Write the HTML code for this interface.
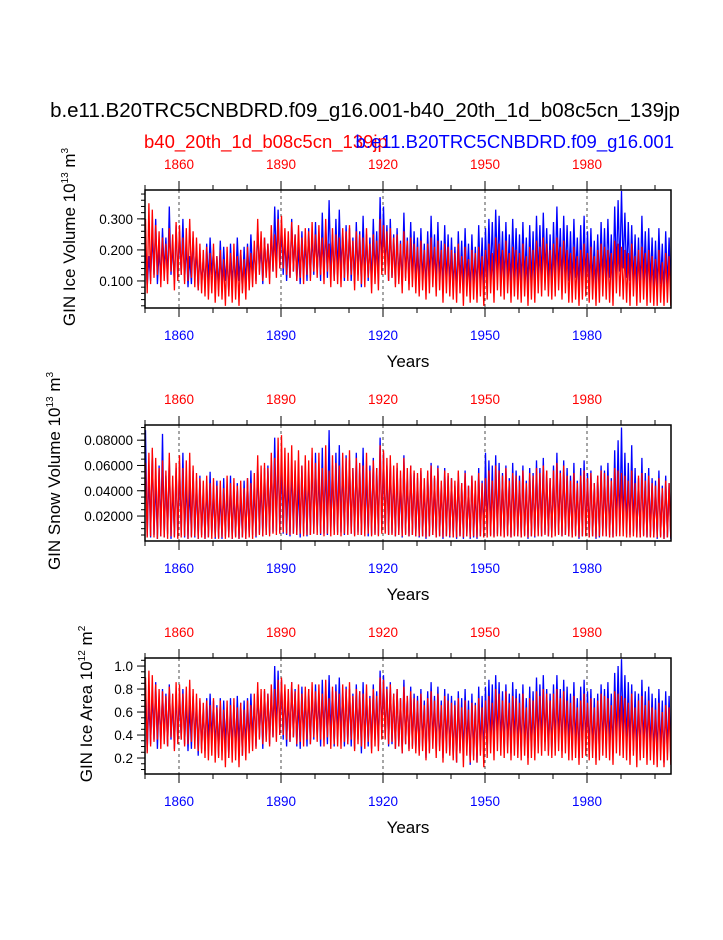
<!DOCTYPE html>
<html><head><meta charset="utf-8"><style>
body{margin:0;background:#fff}
svg text{font-family:"Liberation Sans",sans-serif}
</style></head><body>
<svg id="c" width="723" height="935" xmlns="http://www.w3.org/2000/svg">
<text x="365" y="117" font-size="20.5" text-anchor="middle">b.e11.B20TRC5CNBDRD.f09_g16.001-b40_20th_1d_b08c5cn_139jp</text>
<text x="144" y="148" font-size="18.5" fill="#f00">b40_20th_1d_b08c5cn_139jp</text>
<text x="674" y="148" font-size="18.5" fill="#00f" text-anchor="end">b.e11.B20TRC5CNBDRD.f09_g16.001</text>
</svg>
<script>
const years0 = 1850, nYears = 155;
const majorYears = [1860,1890,1920,1950,1980];
function P(s){return s.trim().split(/\s+/).map(Number);}
// ice volume (x0.01 of 10^13 m^3)
const iceBlueMax = P(`22 18 25 30 20 27 24 34 22 28 26 30 22 18 24 20 19 17 22 24 20 18 23 21 17 22 18 24 20 21 22 25 20 27 21 24 22 26 34 33 28 24 22 30 25 21 26 23 27 25 29 24 32 27 36 25 30 33 26 28 27 24 29 26 31 25 24 30 26 37 34 28 30 25 27 23 32 24 29 26 24 27 22 26 31 25 29 23 28 25 24 21 26 23 27 22 25 21 28 24 27 30 29 33 31 26 29 25 30 27 25 29 24 28 26 31 28 32 27 25 29 34 27 31 28 26 30 24 28 31 26 27 23 25 29 27 30 25 34 36 39 32 29 28 25 24 31 26 27 24 23 27 22 26 24`);
const iceBlueMin = P(`8 10 12 9 11 13 10 12 9 11 12 10 8 9 11 7 9 8 10 12 9 7 8 10 6 9 8 10 7 9 11 12 10 13 9 12 11 13 15 14 12 10 11 13 10 9 12 10 11 12 13 10 12 11 14 10 12 13 10 11 10 9 12 8 11 10 9 12 10 14 13 10 11 9 10 8 11 9 10 9 8 10 7 9 11 8 10 7 9 8 7 6 9 7 10 6 8 6 9 7 9 11 10 12 11 9 10 8 11 9 8 10 7 9 8 11 10 12 9 8 10 12 9 11 10 8 11 7 9 10 8 9 7 8 10 9 11 8 12 13 14 11 10 9 8 7 10 8 9 7 7 9 6 8 7`);
const iceRedMax = P(`30 35 33 28 26 24 22 27 25 29 28 24 27 30 26 24 22 20 21 19 22 18 20 17 21 19 22 18 20 17 21 19 23 30 26 24 22 28 25 30 31 27 26 29 25 28 24 27 26 29 25 28 24 30 22 27 25 24 27 26 28 23 26 25 24 27 22 25 23 30 28 26 27 24 25 22 26 23 24 22 21 23 20 22 24 21 23 20 22 21 20 19 22 18 21 17 20 19 21 18 20 22 19 24 22 20 23 19 21 20 19 22 18 21 20 23 21 24 22 20 22 24 21 23 20 19 21 18 20 22 19 21 18 20 22 21 20 19 23 22 21 20 19 22 18 20 21 19 20 18 17 20 16 19 18`);
const iceRedMin = P(`6 9 11 12 8 10 9 13 7 10 12 9 10 11 8 7 6 5 4 6 3 5 4 2 5 3 4 2 6 4 7 8 9 12 10 11 9 13 11 14 14 12 11 13 10 11 9 12 10 13 11 12 9 13 8 10 9 8 11 10 12 7 10 9 8 11 6 9 7 12 12 10 11 8 9 6 10 7 8 6 5 7 4 6 8 5 7 3 6 5 4 3 6 2 5 3 4 3 5 2 4 6 3 7 5 4 6 3 5 4 3 5 2 4 3 6 5 7 5 4 5 7 4 6 3 3 4 2 4 5 3 4 2 3 5 4 3 2 6 5 4 3 2 5 2 3 4 2 3 2 2 3 2 3 2`);
// snow volume (x0.001 of 10^13 m^3)
const snowBlueMax = P(`88 55 72 48 60 85 52 66 45 58 62 70 50 44 56 48 52 40 46 55 42 48 38 50 44 52 40 46 38 48 50 56 44 62 48 58 60 66 82 72 64 55 50 62 56 46 60 52 58 66 70 58 74 62 88 60 70 76 62 68 64 58 70 60 74 56 60 66 58 82 70 60 64 54 58 50 68 52 60 54 50 56 46 54 62 50 60 46 58 52 50 44 54 46 56 44 52 42 58 48 70 64 60 68 62 54 60 50 62 56 52 60 48 58 54 64 58 66 56 50 60 70 56 64 58 52 62 48 58 64 54 56 46 52 60 56 62 50 72 80 90 70 62 76 58 50 66 54 58 50 48 56 44 52 46`);
const snowBlueMin = P(`4 3 5 2 4 3 6 2 4 3 5 3 2 4 3 2 5 2 3 4 2 3 2 4 3 2 4 2 3 2 4 5 3 6 4 5 6 7 8 7 6 5 4 6 5 3 6 4 5 6 7 5 6 5 8 6 7 7 5 6 6 5 7 5 6 4 5 6 5 8 7 5 6 4 5 3 6 4 5 4 3 4 2 4 5 3 4 2 4 3 3 2 4 2 4 2 3 2 4 3 6 5 4 6 5 4 5 3 5 4 3 5 2 4 3 5 4 6 4 3 5 6 4 5 4 3 5 2 4 5 3 4 2 3 5 4 5 3 6 7 8 6 5 7 4 3 5 3 4 3 2 4 2 3 2`);
const snowRedMax = P(`62 70 74 66 58 64 56 70 52 62 68 58 64 70 60 54 50 48 52 46 50 44 48 42 52 46 50 44 48 42 50 46 54 68 60 62 58 70 66 82 84 74 70 76 64 72 60 68 64 74 62 70 58 76 56 68 62 60 70 66 72 58 66 62 60 70 56 64 58 76 72 66 68 60 62 56 66 58 60 56 54 58 50 56 60 52 58 48 56 54 50 48 56 46 54 44 52 48 54 46 50 56 48 60 56 52 58 48 54 52 48 56 46 54 52 58 54 60 56 50 56 62 54 60 52 48 54 46 52 56 50 54 46 52 56 54 52 48 58 56 54 52 48 56 46 52 54 48 52 46 44 50 42 48 46`);
const snowRedMin = P(`3 4 3 2 4 3 2 4 3 2 3 4 2 3 4 2 3 2 3 2 3 2 3 2 3 2 3 2 3 2 3 2 4 5 4 5 4 6 5 6 7 6 5 6 5 6 4 5 5 6 5 6 4 6 4 5 5 4 6 5 6 4 5 5 4 6 4 5 4 6 6 5 5 4 5 4 5 4 5 4 4 4 3 4 5 3 4 3 4 4 3 3 4 3 4 3 4 3 4 3 3 4 3 4 4 3 4 3 4 4 3 4 3 4 4 4 4 5 4 3 4 5 4 5 4 3 4 3 4 4 3 4 3 4 4 4 3 3 4 4 4 3 3 4 3 3 4 3 3 3 3 3 2 3 3`);
// ice area (x0.01 of 10^12 m^2)
const areaBlueMax = P(`84 70 78 86 72 80 76 84 70 78 76 80 72 66 74 68 70 64 72 76 70 66 72 70 64 72 66 74 68 70 72 76 70 80 72 78 76 80 100 96 88 78 74 86 80 72 82 76 80 78 84 76 88 80 92 78 84 90 78 82 80 76 84 78 86 76 74 84 78 96 92 82 86 76 80 72 88 74 82 76 74 80 70 78 86 74 82 70 80 76 74 70 78 72 80 70 76 68 82 74 82 88 84 92 86 78 84 76 86 80 76 84 72 82 78 90 84 92 80 76 84 92 80 88 82 76 86 72 82 88 78 80 72 76 84 80 86 76 94 100 106 92 86 84 78 76 88 78 82 76 72 80 70 78 74`);
const areaBlueMin = P(`26 32 36 28 34 38 30 36 28 34 36 32 26 28 34 22 28 26 32 36 28 22 26 32 20 28 26 30 22 28 32 36 30 38 28 36 32 38 42 40 36 30 34 38 30 28 36 30 32 36 38 30 36 32 40 30 36 38 30 32 30 28 36 24 32 30 28 36 30 40 38 30 32 28 30 24 32 28 30 26 24 30 20 26 32 24 30 20 26 24 20 16 26 20 28 14 22 16 26 20 26 32 30 34 32 26 30 24 32 26 24 30 20 26 24 32 30 34 26 24 30 34 26 32 30 24 32 20 26 30 24 26 20 24 30 26 32 24 34 36 40 32 30 26 24 20 30 24 26 20 20 26 16 24 20`);
const areaRedMax = P(`90 96 92 84 80 78 74 82 76 86 84 76 82 88 80 76 72 68 70 66 72 64 70 62 70 66 72 64 68 62 70 66 76 86 80 80 76 84 80 88 90 84 80 86 78 84 76 82 80 86 78 84 76 88 72 82 78 76 84 80 86 74 80 78 76 84 72 80 74 90 88 80 84 76 80 72 82 74 78 72 70 76 66 72 78 70 76 66 74 70 68 66 72 64 70 62 68 66 72 64 70 74 68 80 76 70 78 68 74 72 68 76 64 72 70 78 74 80 76 70 76 80 72 78 70 68 74 64 70 76 68 72 64 70 76 74 72 66 78 76 74 72 68 76 64 70 74 66 70 64 62 68 60 66 64`);
const areaRedMin = P(`24 30 34 36 28 32 30 38 26 32 36 30 32 34 28 26 24 20 18 22 16 20 18 12 20 16 18 12 22 18 24 26 28 36 32 34 30 38 34 40 40 36 34 38 32 34 30 36 32 38 34 36 30 38 28 32 30 28 34 32 36 26 32 30 28 34 24 30 26 36 36 32 34 28 30 24 32 26 28 24 22 26 18 24 28 20 26 16 24 22 18 16 24 12 22 16 18 16 22 12 20 24 18 26 22 20 24 18 22 20 18 22 14 20 18 24 22 26 22 20 22 26 20 24 18 18 20 14 20 22 18 20 14 18 22 20 18 14 24 22 20 18 14 22 12 18 20 14 18 14 12 18 12 18 14`);

const svg = document.getElementById('c');
const NS = 'http://www.w3.org/2000/svg';
function el(tag, attrs, parent){const e=document.createElementNS(NS,tag);for(const k in attrs)e.setAttribute(k,attrs[k]);(parent||svg).appendChild(e);return e;}
const X0=145, X1=671;
const xScale = y => X0 + (y - years0) * 3.4;

const panels = [
 {name:'ice-volume', top:190, bot:308, vmin:0.0129, vmax:0.393, scale:0.01, ticks:[0.1,0.2,0.3], fmt:v=>v.toFixed(3), minorStep:0.02, title:'GIN Ice Volume 10', sup:'13', unit:' m', sup2:'3', blue:[iceBlueMax,iceBlueMin], red:[iceRedMax,iceRedMin]},
 {name:'snow-volume', top:425, bot:541, vmin:0.00026, vmax:0.092, scale:0.001, ticks:[0.02,0.04,0.06,0.08], fmt:v=>v.toFixed(5), minorStep:0.005, title:'GIN Snow Volume 10', sup:'13', unit:' m', sup2:'3', blue:[snowBlueMax,snowBlueMin], red:[snowRedMax,snowRedMin]},
 {name:'ice-area', top:658, bot:774, vmin:0.061, vmax:1.07, scale:0.01, ticks:[0.2,0.4,0.6,0.8,1.0], fmt:v=>v.toFixed(1), minorStep:0.05, title:'GIN Ice Area 10', sup:'12', unit:' m', sup2:'2', blue:[areaBlueMax,areaBlueMin], red:[areaRedMax,areaRedMin]},
];

panels.forEach(p=>{
  const g = el('g',{});
  
  
  const yS = v => p.bot - (v - p.vmin)/(p.vmax - p.vmin)*(p.bot-p.top);
  const cp = el('clipPath',{id:'cp-'+p.name},g);
  el('rect',{x:X0,y:p.top,width:X1-X0,height:p.bot-p.top},cp);
  majorYears.forEach(yr=>{
    const l = el('line',{x1:xScale(yr),x2:xScale(yr),y1:p.top,y2:p.bot,stroke:'#000','stroke-width':0.7,'stroke-dasharray':'3,3'},g);
    
    
  });
  [['blue',p.blue,'#00f'],['red',p.red,'#f00']].forEach(([nm,arr,col])=>{
    const pts=[];
    for(let i=0;i<arr[0].length;i++){
      pts.push(xScale(years0+i+0.15).toFixed(1)+','+yS(arr[0][i]*p.scale).toFixed(1));
      pts.push(xScale(years0+i+0.65).toFixed(1)+','+yS(arr[1][i]*p.scale).toFixed(1));
    }
    const pl = el('polyline',{points:pts.join(' '),fill:'none',stroke:col,'stroke-width':1.3,'clip-path':'url(#cp-'+p.name+')'},g);
    
    
  });
  const fr = el('rect',{x:X0,y:p.top,width:X1-X0,height:p.bot-p.top,fill:'none',stroke:'#000','stroke-width':1.5},g);
  
  
  for(let yr=1850; yr<=2005; yr+=10){
    const x=xScale(yr); const maj = majorYears.includes(yr);
    const len = maj?9:5;
    el('line',{x1:x,x2:x,y1:p.top,y2:p.top-len,stroke:'#000','stroke-width':1},g);
    el('line',{x1:x,x2:x,y1:p.bot,y2:p.bot+len,stroke:'#000','stroke-width':1},g);
  }
  majorYears.forEach(yr=>{
    const t=el('text',{x:xScale(yr),y:p.top-21,'font-size':13.5,fill:'#f00','text-anchor':'middle'},g);t.textContent=yr;
    
    
    const b=el('text',{x:xScale(yr),y:p.bot+32,'font-size':13.5,fill:'#00f','text-anchor':'middle'},g);b.textContent=yr;
    
    
  });
  const xt=el('text',{x:408,y:p.bot+59,'font-size':17,'text-anchor':'middle'},g);xt.textContent='Years';
  
  
  for(let v=Math.ceil(p.vmin/p.minorStep)*p.minorStep; v<=p.vmax; v+=p.minorStep){
    const y=yS(v);
    el('line',{x1:X0,x2:X0-4,y1:y,y2:y,stroke:'#000','stroke-width':1},g);
  }
  p.ticks.forEach(v=>{
    const y=yS(v);
    el('line',{x1:X0,x2:X0-8,y1:y,y2:y,stroke:'#000','stroke-width':1},g);
    const t=el('text',{x:X0-12,y:y+5,'font-size':13.5,'text-anchor':'end'},g);t.textContent=p.fmt(v);
    
    
  });
  const cy=(p.top+p.bot)/2;
  const yt=el('text',{x:0,y:0,'font-size':17,'text-anchor':'middle',transform:'translate('+(p.name==='ice-area'?92:(p.name==='snow-volume'?60:75))+','+(cy-12)+') rotate(-90)'},g);
  
  
  yt.appendChild(document.createTextNode(p.title));
  const s1=el('tspan',{'font-size':10,dy:-7},yt);s1.textContent=p.sup;
  const u=el('tspan',{dy:7},yt);u.textContent=p.unit;
  const s2=el('tspan',{'font-size':10,dy:-7},yt);s2.textContent=p.sup2;
});
</script>
</body></html>
